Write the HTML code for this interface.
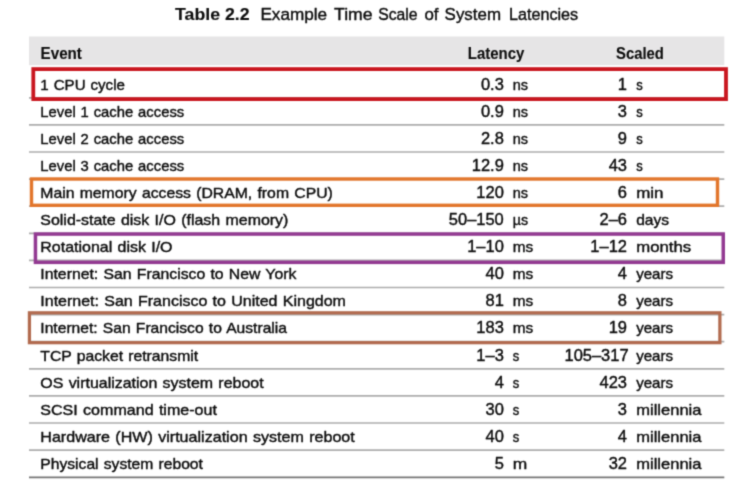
<!DOCTYPE html>
<html><head><meta charset="utf-8"><title>Table 2.2</title>
<style>
html,body{margin:0;padding:0;background:#fff;}
body{width:749px;height:498px;overflow:hidden;font-family:"Liberation Sans",sans-serif;}
svg{display:block;font-family:"Liberation Sans",sans-serif;}
text{fill:#0c0c0c;stroke:#0c0c0c;stroke-width:0.4px;stroke-linejoin:round}
svg{filter:url(#bl)}
.b{font-weight:bold;stroke-width:0.12px}
</style></head><body>
<svg width="749" height="498" viewBox="0 0 749 498">
<defs><filter id="bl" x="0" y="0" width="100%" height="100%" color-interpolation-filters="sRGB"><feConvolveMatrix order="3" kernelMatrix="0.0277 0.111 0.0277 0.111 0.4452 0.111 0.0277 0.111 0.0277" edgeMode="duplicate" preserveAlpha="true"/></filter></defs>
<rect width="749" height="498" fill="#fff"/>
<text class="b" x="175.0" y="19.7" font-size="16.8" textLength="74.6" lengthAdjust="spacingAndGlyphs">Table 2.2</text>
<text x="260.4" y="19.7" font-size="16.8" textLength="66.7" lengthAdjust="spacingAndGlyphs">Example</text>
<text x="334.1" y="19.7" font-size="16.8" textLength="38.5" lengthAdjust="spacingAndGlyphs">Time</text>
<text x="378.2" y="19.7" font-size="16.8" textLength="39.4" lengthAdjust="spacingAndGlyphs">Scale</text>
<text x="424.4" y="19.7" font-size="16.8" textLength="14.1" lengthAdjust="spacingAndGlyphs">of</text>
<text x="444.6" y="19.7" font-size="16.8" textLength="56.4" lengthAdjust="spacingAndGlyphs">System</text>
<text x="509.0" y="19.7" font-size="16.8" textLength="69.2" lengthAdjust="spacingAndGlyphs">Latencies</text>
<rect x="29.0" y="36.5" width="695.3" height="28.700000000000003" fill="#e6e5e6"/>
<text class="b" x="40.6" y="58.8" font-size="16.5" textLength="41.3" lengthAdjust="spacingAndGlyphs">Event</text>
<text class="b" x="467.8" y="58.8" font-size="16.5" textLength="56.6" lengthAdjust="spacingAndGlyphs">Latency</text>
<text class="b" x="616.1" y="58.8" font-size="16.5" textLength="47.8" lengthAdjust="spacingAndGlyphs">Scaled</text>
<line x1="29.0" x2="724.3" y1="97.8" y2="97.8" stroke="#adadad" stroke-width="1.7"/>
<line x1="29.0" x2="724.3" y1="124.9" y2="124.9" stroke="#adadad" stroke-width="1.7"/>
<line x1="29.0" x2="724.3" y1="152.0" y2="152.0" stroke="#adadad" stroke-width="1.7"/>
<line x1="29.0" x2="724.3" y1="179.1" y2="179.1" stroke="#adadad" stroke-width="1.7"/>
<line x1="29.0" x2="724.3" y1="206.2" y2="206.2" stroke="#adadad" stroke-width="1.7"/>
<line x1="29.0" x2="724.3" y1="233.3" y2="233.3" stroke="#adadad" stroke-width="1.7"/>
<line x1="29.0" x2="724.3" y1="260.4" y2="260.4" stroke="#adadad" stroke-width="1.7"/>
<line x1="29.0" x2="724.3" y1="287.5" y2="287.5" stroke="#adadad" stroke-width="1.7"/>
<line x1="29.0" x2="724.3" y1="314.6" y2="314.6" stroke="#adadad" stroke-width="1.7"/>
<line x1="29.0" x2="724.3" y1="341.7" y2="341.7" stroke="#adadad" stroke-width="1.7"/>
<line x1="29.0" x2="724.3" y1="368.8" y2="368.8" stroke="#adadad" stroke-width="1.7"/>
<line x1="29.0" x2="724.3" y1="395.9" y2="395.9" stroke="#adadad" stroke-width="1.7"/>
<line x1="29.0" x2="724.3" y1="423.0" y2="423.0" stroke="#adadad" stroke-width="1.7"/>
<line x1="29.0" x2="724.3" y1="450.1" y2="450.1" stroke="#adadad" stroke-width="1.7"/>
<line x1="29.0" x2="724.3" y1="477.3" y2="477.3" stroke="#747474" stroke-width="1.8"/>
<text x="40.3" y="89.8" font-size="15" word-spacing="0.8" textLength="84.6" lengthAdjust="spacingAndGlyphs">1 CPU cycle</text>
<text transform="translate(503.8 89.8) scale(1.03 1)" font-size="16" text-anchor="end">0.3</text>
<text x="512.8" y="89.8" font-size="15" textLength="15.3" lengthAdjust="spacingAndGlyphs">ns</text>
<text transform="translate(627.0 89.8) scale(1.03 1)" font-size="16" text-anchor="end">1</text>
<text x="636.2" y="89.8" font-size="15" textLength="6.5" lengthAdjust="spacingAndGlyphs">s</text>
<text x="40.3" y="116.9" font-size="15" word-spacing="0.8" textLength="143.9" lengthAdjust="spacingAndGlyphs">Level 1 cache access</text>
<text transform="translate(503.8 116.9) scale(1.03 1)" font-size="16" text-anchor="end">0.9</text>
<text x="512.8" y="116.9" font-size="15" textLength="15.3" lengthAdjust="spacingAndGlyphs">ns</text>
<text transform="translate(627.0 116.9) scale(1.03 1)" font-size="16" text-anchor="end">3</text>
<text x="636.2" y="116.9" font-size="15" textLength="6.5" lengthAdjust="spacingAndGlyphs">s</text>
<text x="40.3" y="143.9" font-size="15" word-spacing="0.8" textLength="143.9" lengthAdjust="spacingAndGlyphs">Level 2 cache access</text>
<text transform="translate(503.8 143.9) scale(1.03 1)" font-size="16" text-anchor="end">2.8</text>
<text x="512.8" y="143.9" font-size="15" textLength="15.3" lengthAdjust="spacingAndGlyphs">ns</text>
<text transform="translate(627.0 143.9) scale(1.03 1)" font-size="16" text-anchor="end">9</text>
<text x="636.2" y="143.9" font-size="15" textLength="6.5" lengthAdjust="spacingAndGlyphs">s</text>
<text x="40.3" y="171.0" font-size="15" word-spacing="0.8" textLength="143.9" lengthAdjust="spacingAndGlyphs">Level 3 cache access</text>
<text transform="translate(503.8 171.0) scale(1.03 1)" font-size="16" text-anchor="end">12.9</text>
<text x="512.8" y="171.0" font-size="15" textLength="15.3" lengthAdjust="spacingAndGlyphs">ns</text>
<text transform="translate(627.0 171.0) scale(1.03 1)" font-size="16" text-anchor="end">43</text>
<text x="636.2" y="171.0" font-size="15" textLength="6.5" lengthAdjust="spacingAndGlyphs">s</text>
<text x="40.3" y="198.1" font-size="15" word-spacing="0.8" textLength="292.5" lengthAdjust="spacingAndGlyphs">Main memory access (DRAM, from CPU)</text>
<text transform="translate(503.8 198.1) scale(1.03 1)" font-size="16" text-anchor="end">120</text>
<text x="512.8" y="198.1" font-size="15" textLength="15.3" lengthAdjust="spacingAndGlyphs">ns</text>
<text transform="translate(627.0 198.1) scale(1.03 1)" font-size="16" text-anchor="end">6</text>
<text x="636.2" y="198.1" font-size="15" textLength="27.3" lengthAdjust="spacingAndGlyphs">min</text>
<text x="40.3" y="225.1" font-size="15" word-spacing="0.8" textLength="248.1" lengthAdjust="spacingAndGlyphs">Solid-state disk I/O (flash memory)</text>
<text transform="translate(503.8 225.1) scale(1.03 1)" font-size="16" text-anchor="end">50–150</text>
<text x="512.8" y="225.1" font-size="15" textLength="15.3" lengthAdjust="spacingAndGlyphs">µs</text>
<text transform="translate(627.0 225.1) scale(1.03 1)" font-size="16" text-anchor="end">2–6</text>
<text x="636.2" y="225.1" font-size="15" textLength="32.9" lengthAdjust="spacingAndGlyphs">days</text>
<text x="40.3" y="252.2" font-size="15" word-spacing="0.8" textLength="132.2" lengthAdjust="spacingAndGlyphs">Rotational disk I/O</text>
<text transform="translate(503.8 252.2) scale(1.03 1)" font-size="16" text-anchor="end">1–10</text>
<text x="512.8" y="252.2" font-size="15" textLength="20.5" lengthAdjust="spacingAndGlyphs">ms</text>
<text transform="translate(627.0 252.2) scale(1.03 1)" font-size="16" text-anchor="end">1–12</text>
<text x="636.2" y="252.2" font-size="15" textLength="54.9" lengthAdjust="spacingAndGlyphs">months</text>
<text x="40.3" y="279.3" font-size="15" word-spacing="0.8" textLength="256.1" lengthAdjust="spacingAndGlyphs">Internet: San Francisco to New York</text>
<text transform="translate(503.8 279.3) scale(1.03 1)" font-size="16" text-anchor="end">40</text>
<text x="512.8" y="279.3" font-size="15" textLength="20.5" lengthAdjust="spacingAndGlyphs">ms</text>
<text transform="translate(627.0 279.3) scale(1.03 1)" font-size="16" text-anchor="end">4</text>
<text x="636.2" y="279.3" font-size="15" textLength="36.9" lengthAdjust="spacingAndGlyphs">years</text>
<text x="40.3" y="306.4" font-size="15" word-spacing="0.8" textLength="305.6" lengthAdjust="spacingAndGlyphs">Internet: San Francisco to United Kingdom</text>
<text transform="translate(503.8 306.4) scale(1.03 1)" font-size="16" text-anchor="end">81</text>
<text x="512.8" y="306.4" font-size="15" textLength="20.5" lengthAdjust="spacingAndGlyphs">ms</text>
<text transform="translate(627.0 306.4) scale(1.03 1)" font-size="16" text-anchor="end">8</text>
<text x="636.2" y="306.4" font-size="15" textLength="36.9" lengthAdjust="spacingAndGlyphs">years</text>
<text x="40.3" y="333.4" font-size="15" word-spacing="0.8" textLength="246.7" lengthAdjust="spacingAndGlyphs">Internet: San Francisco to Australia</text>
<text transform="translate(503.8 333.4) scale(1.03 1)" font-size="16" text-anchor="end">183</text>
<text x="512.8" y="333.4" font-size="15" textLength="20.5" lengthAdjust="spacingAndGlyphs">ms</text>
<text transform="translate(627.0 333.4) scale(1.03 1)" font-size="16" text-anchor="end">19</text>
<text x="636.2" y="333.4" font-size="15" textLength="36.9" lengthAdjust="spacingAndGlyphs">years</text>
<text x="40.3" y="360.5" font-size="15" word-spacing="0.8" textLength="157.9" lengthAdjust="spacingAndGlyphs">TCP packet retransmit</text>
<text transform="translate(503.8 360.5) scale(1.03 1)" font-size="16" text-anchor="end">1–3</text>
<text x="512.8" y="360.5" font-size="15" textLength="6.5" lengthAdjust="spacingAndGlyphs">s</text>
<text transform="translate(628.6 360.5) scale(1.03 1)" font-size="16" text-anchor="end">105–317</text>
<text x="636.2" y="360.5" font-size="15" textLength="36.9" lengthAdjust="spacingAndGlyphs">years</text>
<text x="40.3" y="387.6" font-size="15" word-spacing="0.8" textLength="223.3" lengthAdjust="spacingAndGlyphs">OS virtualization system reboot</text>
<text transform="translate(503.8 387.6) scale(1.03 1)" font-size="16" text-anchor="end">4</text>
<text x="512.8" y="387.6" font-size="15" textLength="6.5" lengthAdjust="spacingAndGlyphs">s</text>
<text transform="translate(627.0 387.6) scale(1.03 1)" font-size="16" text-anchor="end">423</text>
<text x="636.2" y="387.6" font-size="15" textLength="36.9" lengthAdjust="spacingAndGlyphs">years</text>
<text x="40.3" y="414.6" font-size="15" word-spacing="0.8" textLength="176.6" lengthAdjust="spacingAndGlyphs">SCSI command time-out</text>
<text transform="translate(503.8 414.6) scale(1.03 1)" font-size="16" text-anchor="end">30</text>
<text x="512.8" y="414.6" font-size="15" textLength="6.5" lengthAdjust="spacingAndGlyphs">s</text>
<text transform="translate(627.0 414.6) scale(1.03 1)" font-size="16" text-anchor="end">3</text>
<text x="636.2" y="414.6" font-size="15" textLength="65.3" lengthAdjust="spacingAndGlyphs">millennia</text>
<text x="40.3" y="441.7" font-size="15" word-spacing="0.8" textLength="314.5" lengthAdjust="spacingAndGlyphs">Hardware (HW) virtualization system reboot</text>
<text transform="translate(503.8 441.7) scale(1.03 1)" font-size="16" text-anchor="end">40</text>
<text x="512.8" y="441.7" font-size="15" textLength="6.5" lengthAdjust="spacingAndGlyphs">s</text>
<text transform="translate(627.0 441.7) scale(1.03 1)" font-size="16" text-anchor="end">4</text>
<text x="636.2" y="441.7" font-size="15" textLength="65.3" lengthAdjust="spacingAndGlyphs">millennia</text>
<text x="40.3" y="468.8" font-size="15" word-spacing="0.8" textLength="162.6" lengthAdjust="spacingAndGlyphs">Physical system reboot</text>
<text transform="translate(503.8 468.8) scale(1.03 1)" font-size="16" text-anchor="end">5</text>
<text x="512.8" y="468.8" font-size="15" textLength="14.5" lengthAdjust="spacingAndGlyphs">m</text>
<text transform="translate(627.0 468.8) scale(1.03 1)" font-size="16" text-anchor="end">32</text>
<text x="636.2" y="468.8" font-size="15" textLength="65.3" lengthAdjust="spacingAndGlyphs">millennia</text>
<rect x="33.30" y="69.10" width="692.70" height="30.00" fill="none" stroke="#c9161f" stroke-width="3.8"/>
<rect x="31.50" y="179.00" width="686.00" height="26.30" fill="none" stroke="#e2762c" stroke-width="3.4"/>
<rect x="35.45" y="234.05" width="687.80" height="28.30" fill="none" stroke="#933a92" stroke-width="3.5"/>
<rect x="29.43" y="312.82" width="690.45" height="29.85" fill="none" stroke="#b26b4f" stroke-width="3.25"/>
</svg>
</body></html>
